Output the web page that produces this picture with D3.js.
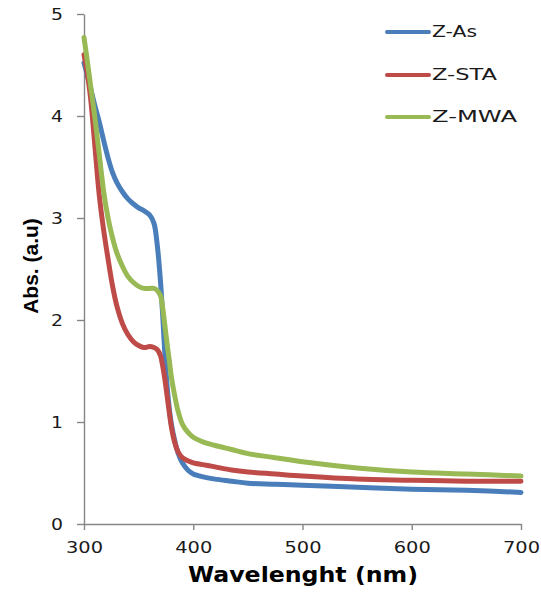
<!DOCTYPE html>
<html>
<head>
<meta charset="utf-8">
<script src="https://cdn.jsdelivr.net/npm/d3@7"></script>
<style>
  html, body { margin: 0; padding: 0; background: #fff; }
  svg { display: block; }
</style>
</head>
<body>
<svg id="chart" width="541" height="592"></svg>
<script>
// UV-Vis absorbance spectra
const wavelengths = [300, 303, 306, 310, 314, 318, 322, 326, 330, 335, 340, 345, 350, 355, 360, 364, 367, 370, 372, 374, 376, 378, 380, 383, 386, 390, 395, 400, 410, 420, 435, 450, 475, 500, 550, 600, 650, 700];
const absZAs  = [4.52, 4.40, 4.27, 4.10, 3.94, 3.76, 3.59, 3.45, 3.35, 3.26, 3.19, 3.14, 3.10, 3.07, 3.03, 2.95, 2.74, 2.38, 2.05, 1.67, 1.36, 1.14, 0.98, 0.82, 0.70, 0.60, 0.53, 0.49, 0.46, 0.44, 0.42, 0.40, 0.39, 0.38, 0.36, 0.34, 0.33, 0.31];
const absZSTA = [4.60, 4.42, 4.18, 3.70, 3.22, 2.88, 2.60, 2.34, 2.14, 1.97, 1.86, 1.79, 1.75, 1.73, 1.74, 1.73, 1.71, 1.65, 1.55, 1.42, 1.26, 1.10, 0.95, 0.80, 0.71, 0.65, 0.62, 0.60, 0.58, 0.56, 0.53, 0.51, 0.49, 0.47, 0.44, 0.43, 0.42, 0.42];
const absZMWA = [4.77, 4.54, 4.30, 3.98, 3.62, 3.26, 3.00, 2.81, 2.66, 2.53, 2.43, 2.37, 2.33, 2.31, 2.31, 2.31, 2.29, 2.24, 2.12, 1.95, 1.77, 1.61, 1.44, 1.26, 1.11, 0.98, 0.90, 0.85, 0.80, 0.77, 0.73, 0.69, 0.65, 0.61, 0.55, 0.51, 0.49, 0.47];

const seriesNames = ["Z-As", "Z-STA", "Z-MWA"];
const seriesColors = ["#4A7EBB", "#BE4B48", "#98B954"];
const xTicks = [300, 400, 500, 600, 700];
const yTicks = [0, 1, 2, 3, 4, 5];

const series = [absZAs, absZSTA, absZMWA].map((vals, i) => ({
  name: seriesNames[i],
  color: seriesColors[i],
  points: wavelengths.map((w, j) => ({ x: w, y: vals[j] }))
}));

const svg = d3.select("#chart");
const x = d3.scaleLinear().domain([300, 700]).range([84, 521]);
const y = d3.scaleLinear().domain([0, 5]).range([524, 14]);
const axisColor = "#868686";

// Axes
const gx = svg.append("g")
  .attr("transform", `translate(0,${y(0)})`)
  .call(d3.axisBottom(x).tickValues(xTicks).tickFormat(d3.format("d")).tickSize(6).tickPadding(12).tickSizeOuter(0));
const gy = svg.append("g")
  .attr("transform", `translate(${x(300)},0)`)
  .call(d3.axisLeft(y).tickValues(yTicks).tickFormat(d3.format("d")).tickSize(7).tickPadding(14).tickSizeOuter(0));

[gx, gy].forEach(g => {
  g.select(".domain").attr("stroke", axisColor).attr("stroke-width", 1.4);
  g.selectAll(".tick line").attr("stroke", axisColor).attr("stroke-width", 1.4);
  g.selectAll(".tick text")
    .attr("fill", "#1a1a1a")
    .style("font-family", "'DejaVu Sans', Verdana, sans-serif")
    .style("font-size", "16px");
});
gx.selectAll(".tick text").attr("textLength", 37).attr("lengthAdjust", "spacingAndGlyphs");
gy.selectAll(".tick text").attr("textLength", 12).attr("lengthAdjust", "spacingAndGlyphs");

// Spectra
const line = d3.line()
  .x(d => x(d.x))
  .y(d => y(d.y))
  .curve(d3.curveCatmullRom.alpha(0.5));

svg.append("g").selectAll("path")
  .data(series)
  .join("path")
  .attr("d", d => line(d.points))
  .attr("fill", "none")
  .attr("stroke", d => d.color)
  .attr("stroke-width", 5)
  .attr("stroke-linejoin", "round")
  .attr("stroke-linecap", "round");

// Axis titles
svg.append("text")
  .attr("x", 303)
  .attr("y", 582)
  .attr("text-anchor", "middle")
  .attr("textLength", 230)
  .attr("lengthAdjust", "spacingAndGlyphs")
  .style("font-family", "'DejaVu Sans', Verdana, sans-serif")
  .style("font-weight", "bold")
  .style("font-size", "21px")
  .attr("fill", "#000")
  .text("Wavelenght (nm)");

svg.append("text")
  .attr("transform", "translate(38,266) rotate(-90)")
  .attr("text-anchor", "middle")
  .style("font-family", "'Liberation Sans', Arial, sans-serif")
  .style("font-weight", "bold")
  .style("font-size", "21px")
  .attr("fill", "#000")
  .text("Abs. (a.u)");

// Legend
const legendY = [32, 75, 117];
const legendW = [45, 65, 85];
const legend = svg.append("g").selectAll("g")
  .data(series)
  .join("g")
  .attr("transform", (d, i) => `translate(0,${legendY[i]})`);
legend.append("line")
  .attr("x1", 387).attr("x2", 429)
  .attr("stroke", d => d.color)
  .attr("stroke-width", 4)
  .attr("stroke-linecap", "round");
legend.append("text")
  .attr("x", 432)
  .attr("dy", "0.36em")
  .attr("textLength", (d, i) => legendW[i])
  .attr("lengthAdjust", "spacingAndGlyphs")
  .style("font-family", "'DejaVu Sans', Verdana, sans-serif")
  .style("font-size", "15px")
  .attr("fill", "#1a1a1a")
  .text(d => d.name);
</script>
</body>
</html>
